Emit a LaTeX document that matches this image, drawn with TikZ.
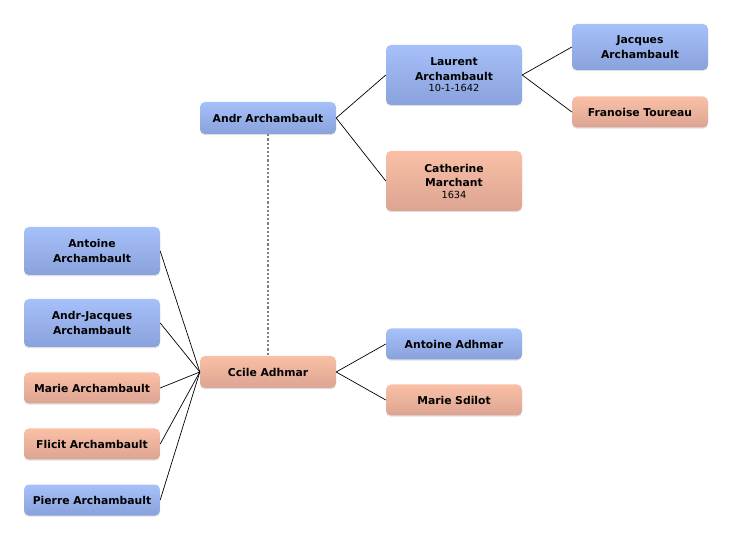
\documentclass[tikz,border=0pt]{standalone}
\usepackage{fontspec}
\setmainfont{DejaVu Sans}
\usetikzlibrary{shapes,positioning,calc,shadows}

\begin{document}
\begin{tikzpicture}[
      x=1pt, y=-1pt,
      mynode/.style = {rectangle, rounded corners=5pt, minimum width=136pt, minimum height=31pt,
                       text width=132pt, align=center, inner sep=2pt,
                       font=\fontsize{10.8}{14.5}\selectfont\bfseries,
                       drop shadow={shadow xshift=0pt, shadow yshift=-1.2pt, opacity=0.25}},
      mb/.style = {mynode, top color={rgb,255:red,166;green,192;blue,250}, bottom color={rgb,255:red,138;green,162;blue,220}},
      ms/.style = {mynode, top color={rgb,255:red,250;green,192;blue,166}, bottom color={rgb,255:red,220;green,164;blue,146}},
      link/.style = {draw, line width=0.7pt},
      spouse/.style = {draw, gray, line width=1.5pt, dash pattern=on 2.2pt off 2pt}
      ]
      \useasboundingbox (0,0) rectangle (732,540);
      \node[mb, minimum height=32pt] (andr) at (268,118) {Andr Archambault};
      \node[mb, minimum height=60pt] (laurent) at (454,75) {Laurent\\Archambault\\[-3pt]{\fontsize{9.8}{10}\selectfont\mdseries 10-1-1642}};
      \node[ms, minimum height=60pt] (catherine) at (454,181) {Catherine\\Marchant\\[-3pt]{\fontsize{9.8}{10}\selectfont\mdseries 1634}};
      \node[mb, minimum height=46pt] (jacques) at (640,47) {Jacques\\Archambault};
      \node[ms] (francoise) at (640,112) {Franoise Toureau};
      \node[ms, minimum height=32pt] (cecile) at (268,372) {Ccile Adhmar};
      \node[mb] (antoineA) at (454,344) {Antoine Adhmar};
      \node[ms] (sedilot) at (454,400) {Marie Sdilot};
      \node[mb, minimum height=48pt] (antoine) at (92,251) {Antoine\\Archambault};
      \node[mb, minimum height=48pt] (andrj) at (92,323) {Andr-Jacques\\Archambault};
      \node[ms] (marie) at (92,388) {Marie Archambault};
      \node[ms] (felicite) at (92,444) {Flicit Archambault};
      \node[mb] (pierre) at (92,500) {Pierre Archambault};
      \path[link] (andr.east) -- (laurent.west);
      \path[link] (andr.east) -- (catherine.west);
      \path[link] (laurent.east) -- (jacques.west);
      \path[link] (laurent.east) -- (francoise.west);
      \path[link] (cecile.east) -- (antoineA.west);
      \path[link] (cecile.east) -- (sedilot.west);
      \foreach \k in {antoine,andrj,marie,felicite,pierre}
        \path[link] (cecile.west) -- (\k.east);
      \path[spouse] (andr.south) -- (cecile.north);
    \end{tikzpicture}
\end{document}
